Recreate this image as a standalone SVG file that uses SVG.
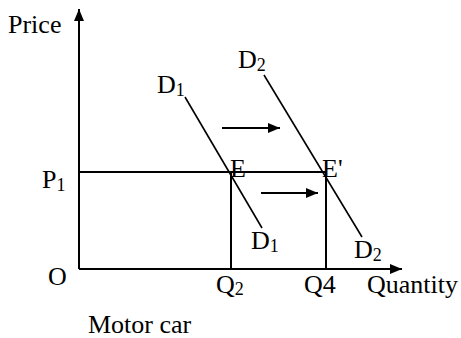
<svg xmlns="http://www.w3.org/2000/svg" width="461" height="338" viewBox="0 0 461 338">
<style>
text{font-family:'Liberation Serif',serif;font-size:26px;fill:#000}
.sub{font-size:18px}
.ax{stroke:#000;stroke-width:2;fill:none}
.ln{stroke:#000;stroke-width:1.6;fill:none}
</style>
<defs>
<marker id="ah" markerWidth="12" markerHeight="10" refX="12" refY="5" orient="auto" markerUnits="userSpaceOnUse">
<path d="M0,0 L12,5 L0,10 Z" fill="#000"/>
</marker>
</defs>
<rect width="461" height="338" fill="#fff"/>
<g id="connectors">
<line class="ax" x1="79" y1="269" x2="79" y2="9" marker-end="url(#ah)"/>
<line class="ax" x1="79" y1="269" x2="402" y2="269" marker-end="url(#ah)"/>
<line class="ax" x1="79" y1="172" x2="326" y2="172"/>
<line class="ax" x1="231" y1="172" x2="231" y2="269"/>
<line class="ax" x1="326" y1="172" x2="326" y2="269"/>
<line class="ln" x1="185" y1="97" x2="262" y2="228"/>
<line class="ln" x1="264" y1="75" x2="362" y2="237"/>
<line class="ax" x1="222" y1="128" x2="280" y2="128" marker-end="url(#ah)"/>
<line class="ax" x1="261" y1="193" x2="318" y2="193" marker-end="url(#ah)"/>
</g>
<g id="labels">
<text x="8" y="33">Price</text>
<text x="157" y="93">D<tspan class="sub" dy="3">1</tspan></text>
<text x="238" y="68">D<tspan class="sub" dy="3">2</tspan></text>
<text x="230" y="177">E</text>
<text x="322" y="177">E'</text>
<text x="42" y="188">P<tspan class="sub" dy="3">1</tspan></text>
<text x="48" y="285">O</text>
<text x="251" y="249">D<tspan class="sub" dy="3">1</tspan></text>
<text x="354" y="258">D<tspan class="sub" dy="3">2</tspan></text>
<text x="216" y="293">Q<tspan class="sub" dy="2">2</tspan></text>
<text x="304" y="293">Q4</text>
<text x="367" y="293">Quantity</text>
<text x="88" y="333">Motor car</text>
</g>
</svg>
